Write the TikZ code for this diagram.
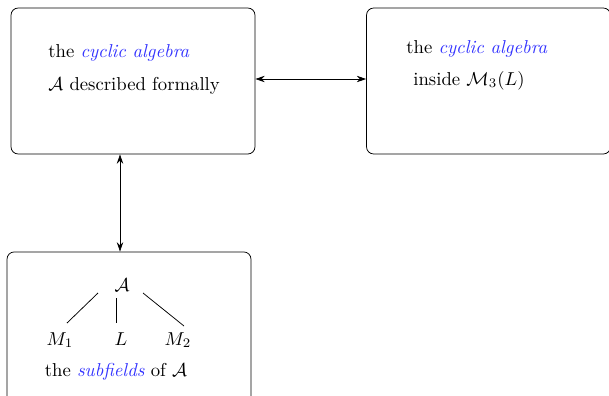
\documentclass[tikz,border=0pt]{standalone}
\usetikzlibrary{arrows.meta}
\definecolor{hl}{rgb}{0.2,0.2,1}
\begin{document}
\begin{tikzpicture}[x=0.535pt,y=-0.535pt,
  panel/.style={draw,rounded corners=3.8pt,minimum width=130.5pt,minimum height=78.1pt,inner sep=0pt},
  txt/.style={anchor=base west,inner sep=0pt},
  lbl/.style={anchor=base,inner sep=0pt},
  link/.style={{Stealth[length=5pt,width=3.4pt]}-{Stealth[length=5pt,width=3.4pt]}}]
\useasboundingbox (0,0) rectangle (609,395);
\node[panel] (box1) at (133,81) {};
\node[panel] (box2) at (488.5,81) {};
\node[panel,minimum height=82pt] (box3) at (129,328.6) {};
\node[txt] (t1a) at (48,57) {the \textcolor{hl}{\textit{cyclic algebra}}};
\node[txt] (t1b) at (48,90) {$\mathcal{A}$ described formally};
\node[txt] (t2a) at (406,53) {the \textcolor{hl}{\textit{cyclic algebra}}};
\node[txt] (t2b) at (413,85) {inside $\mathcal{M}_3(L)$};
\node[lbl] (A) at (122,291) {$\mathcal{A}$};
\node[lbl] (M1) at (60,345) {$M_1$};
\node[lbl] (L) at (121,345) {$L$};
\node[lbl] (M2) at (178,345) {$M_2$};
\node[lbl] (sub) at (116,376) {the \textcolor{hl}{\textit{subfields}} of $\mathcal{A}$};
\coordinate (a1) at (98,293); \coordinate (b1) at (67,323);
\coordinate (a2) at (116,298); \coordinate (b2) at (116,323);
\coordinate (a3) at (143,293); \coordinate (b3) at (184,326);
\draw (a1) -- (b1);
\draw (a2) -- (b2);
\draw (a3) -- (b3);
\coordinate (vx) at (120,0);
\draw[link] (box1.east |- 0,79) -- (box2.west |- 0,79);
\draw[link] (box1.south -| vx) -- (box3.north -| vx);
\end{tikzpicture}
\end{document}
